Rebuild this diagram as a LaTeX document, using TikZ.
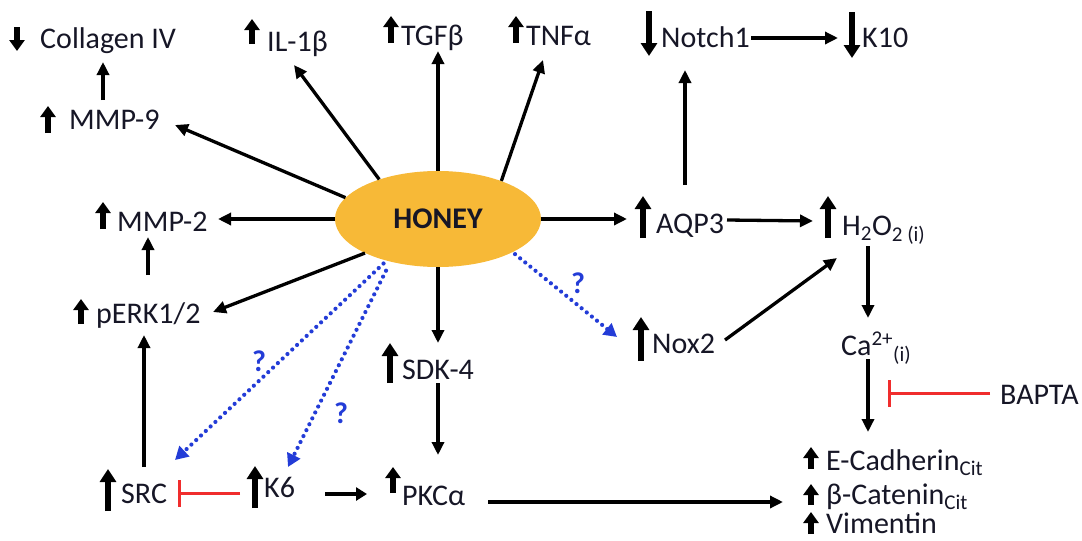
\documentclass[tikz,border=0pt]{standalone}
\usepackage{fontspec}
\setmainfont{Carlito}
\usetikzlibrary{arrows.meta,calc,shapes.geometric}
\definecolor{honeyc}{RGB}{247,185,55}
\definecolor{qblue}{RGB}{35,60,215}
\definecolor{inhred}{RGB}{240,45,45}
\definecolor{txt}{RGB}{22,22,38}
\begin{document}
\begin{tikzpicture}[x=1pt,y=-1pt,
 lbl/.style={anchor=base west,inner sep=0pt,font=\fontsize{30}{36}\selectfont,text=txt},
 conn/.style={line width=3.3pt,-{Triangle[length=13pt,width=12pt]}},
 thickconn/.style={line width=4.8pt,-{Triangle[length=11pt,width=13pt]}},
 dotconn/.style={qblue,line width=4.2pt,line cap=round,dash pattern=on 0pt off 6.6pt,-{Triangle[length=13pt,width=14pt]}},
 inhib/.style={inhred,line width=3pt,-{Bar[width=27pt]}},
 upbig/.style={line width=6pt,-{Triangle[length=13pt,width=16pt]}},
 upsmall/.style={line width=6pt,-{Triangle[length=11pt,width=15pt]}},
 qmark/.style={text=qblue,font=\fontsize{30}{34}\selectfont\bfseries,inner sep=0pt}]

\useasboundingbox (0,0) rectangle (1082,541);

% central node
\node[ellipse,fill=honeyc,minimum width=206pt,minimum height=96pt,inner sep=0pt,
      font=\fontsize{30}{34}\selectfont\bfseries,text=txt] (honey) at (438,219) {HONEY};

% labels
\node[lbl] (coll)  at (40,48)   {Collagen IV};
\node[lbl] (il)    at (267,51)  {IL-1β};
\node[lbl] (mmp9)  at (69,129)  {MMP-9};
\node[lbl] (tgf)   at (401,45)  {TGFβ};
\node[lbl] (tnf)   at (526,45)  {TNFα};
\node[lbl] (notch) at (661,47)  {Notch1};
\node[lbl] (k10)   at (862,47)  {K10};
\node[lbl] (mmp2)  at (117,231) {MMP-2};
\node[lbl] (perk)  at (96,323)  {pERK1/2};
\node[lbl] (aqp)   at (656,233) {AQP3};
\node[lbl] (h2o2)  at (842,235) {H\textsubscript{2}O\textsubscript{2 (i)}};
\node[lbl] (nox)   at (652,353) {Nox2};
\node[lbl] (ca)    at (841,355) {Ca\textsuperscript{2+}\textsubscript{(i)}};
\node[lbl] (bapta) at (1000,404){BAPTA};
\node[lbl] (ecad)  at (826,470) {E-Cadherin\textsubscript{Cit}};
\node[lbl] (bcat)  at (826,504) {β-Catenin\textsubscript{Cit}};
\node[lbl] (vim)   at (826,533) {Vimentin};
\node[lbl] (sdk)   at (402,379) {SDK-4};
\node[lbl] (pkc)   at (402,505) {PKCα};
\node[lbl] (src)   at (121,503) {SRC};
\node[lbl] (k6)    at (264,497) {K6};

\node[qmark] (q1) at (578,283) {?};
\node[qmark] (q2) at (259,361) {?};
\node[qmark] (q3) at (341,413) {?};

% up/down indicators
\draw[upsmall] (17,27) -- (17,51);
\draw[upsmall] (252,44) -- (252,19);
\draw[upsmall] (48,133) -- (48,106);
\draw[upsmall] (391,43) -- (391,16);
\draw[upsmall] (516,43) -- (516,16);
\draw[upbig] (649,11) -- (649,56);
\draw[upbig] (852,12) -- (852,58);
\draw[upsmall] (103,229) -- (103,202);
\draw[upsmall] (81,324) -- (81,299);
\draw[upbig] (643,238) -- (643,196);
\draw[upbig] (828,238) -- (828,196);
\draw[upbig] (641,361) -- (641,317);
\draw[upbig] (390,383) -- (390,343);
\draw[upbig] (108,511) -- (108,469);
\draw[upbig] (255,508) -- (255,466);
\draw[upsmall] (393,493) -- (393,467);
\draw[upsmall] (811,469) -- (811,447);
\draw[upsmall] (811,505) -- (811,484);
\draw[upsmall] (811,534) -- (811,512);

% connectors from HONEY
\draw[conn] (honey.146) -- ($(il.base west)+(27,14)$);
\draw[conn] (honey.north) -- ($(tgf.base west)+(37,6)$);
\draw[conn] (honey.31) -- ($(tnf.base west)+(17,15)$);
\draw[conn] (honey.167) -- ($(mmp9.base west)+(106,-4)$);
\draw[conn] (honey.west) -- ($(mmp2.base west)+(101,-12)$);
\draw[conn] (honey.205) -- ($(perk.base west)+(117,-11)$);
\draw[conn] (honey.south) -- ($(sdk.base west)+(36,-36)$);
\draw[conn] (honey.east) -- ($(aqp.base west)+(-29,-14)$);
\draw[dotconn,shorten <=3pt] (honey.336) -- ($(nox.base west)+(-35,-16)$);
\draw[dotconn,shorten <=4pt] (honey.219) -- ($(src.base west)+(54,-43)$);
\draw[dotconn,shorten <=10pt] (honey.222) -- ($(k6.base west)+(24,-30)$);

% other connectors
\draw[conn] ($(mmp9.base west)+(34,-29)$) -- ($(coll.base west)+(63,14)$);
\draw[conn] ($(src.base west)+(23,-36)$) -- ($(perk.base west)+(48,12)$);
\draw[conn] ($(perk.base west)+(52,-48)$) -- ($(mmp2.base west)+(31,6)$);
\draw[inhib] ($(k6.base west)+(-24,-4)$) -- ($(src.base west)+(57,-10)$);
\draw[thickconn] ($(k6.base west)+(61,-3)$) -- ($(pkc.base west)+(-35,-11)$);
\draw[conn] ($(sdk.base west)+(36,4)$) -- ($(pkc.base west)+(36,-50)$);
\draw[conn] ($(pkc.base west)+(86,-3)$) -- ($(bcat.base west)+(-43,-2)$);
\draw[conn] ($(aqp.base west)+(29,-48)$) -- ($(notch.base west)+(24,23)$);
\draw[conn] ($(notch.base west)+(90,-9)$) -- ($(k10.base west)+(-24,-9)$);
\draw[conn] ($(aqp.base west)+(71,-13)$) -- ($(h2o2.base west)+(-29,-14)$);
\draw[conn] ($(nox.base west)+(73,-13)$) -- ($(h2o2.base west)+(-5,23)$);
\draw[conn] ($(h2o2.base west)+(26,11)$) -- ($(ca.base west)+(27,-37)$);
\draw[conn] ($(ca.base west)+(27,4)$) -- ($(ecad.base west)+(42,-38)$);
\draw[inhib] ($(bapta.base west)+(-10,-11)$) -- ($(ca.base west)+(47,38)$);

\end{tikzpicture}
\end{document}
